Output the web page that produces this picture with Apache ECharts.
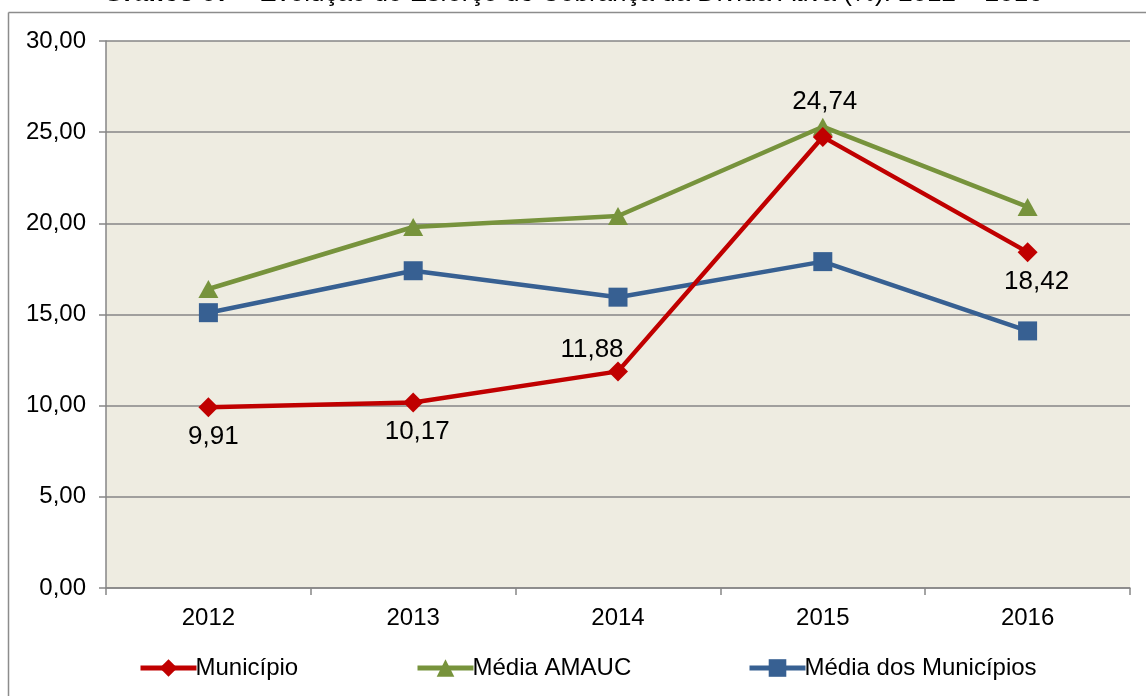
<!DOCTYPE html>
<html>
<head>
<meta charset="utf-8">
<script src="https://cdn.jsdelivr.net/npm/echarts@6/dist/echarts.min.js"></script>
<style>
  html, body { margin: 0; padding: 0; background: #fff; }
  #chart { width: 1146px; height: 696px; }
</style>
</head>
<body>
<div id="chart"></div>
<script>
// dados
const anos = ['2012', '2013', '2014', '2015', '2016']
const municipio = [9.91, 10.17, 11.88, 24.74, 18.42]
const mediaAmauc = [16.4, 19.8, 20.4, 25.3, 20.9]
const mediaMunicipios = [15.1, 17.4, 15.95, 17.9, 14.1]
// posição do rótulo de cada ponto do Município
const posRotulo = ['bottom', 'bottom', 'top', 'top', 'bottom']

const fonte = '"Liberation Sans", Arial, sans-serif'
const fmt = v => v.toFixed(2).replace('.', ',')

const myChart = echarts.init(document.getElementById('chart'))

// rótulos do Município, com ajustes finos (ficam acima/abaixo como no original)
const ajuste = [[5, -3], [4, -4], [-26, 11], [2, -2], [9, -3]]
const dadosMunicipio = municipio.map((v, i) => ({
    value: v,
    label: {
        show: true,
        position: posRotulo[i],
        distance: 10,
        offset: ajuste[i]
    }
}))

// uma legenda por série, para acertar a posição de cada item
const legendaBase = {
    top: 651,
    itemWidth: 56,
    itemHeight: 22,
    itemGap: 0,
    lineStyle: { width: 5 },
    textStyle: { fontSize: 24, color: '#000', fontFamily: fonte, padding: [0, 0, 0, -6] }
}

myChart.setOption({
    animation: false,
    backgroundColor: '#ffffff',
    textStyle: { fontFamily: fonte },
    title: {
        text: '{b|Gráfico 07} – Evolução do Esforço de Cobrança da Dívida Ativa (%): 2012 – 2016',
        left: 'center',
        top: -19,
        padding: [0, 0, 0, 30],
        textStyle: {
            fontSize: 26,
            fontWeight: 'normal',
            color: '#000',
            fontFamily: fonte,
            rich: { b: { fontSize: 26, fontWeight: 'bold', color: '#000', fontFamily: fonte } }
        }
    },
    graphic: [
        { type: 'line', shape: { x1: 8.5, y1: 12.5, x2: 8.5, y2: 696 }, style: { stroke: '#8c8c8c', lineWidth: 1.5 } },
        { type: 'line', shape: { x1: 8.5, y1: 12.5, x2: 1146, y2: 12.5 }, style: { stroke: '#8c8c8c', lineWidth: 1.5 } }
    ],
    grid: {
        left: 106,
        right: 16,
        top: 41,
        bottom: 108,
        show: true,
        backgroundColor: '#EEECE1',
        borderWidth: 0
    },
    legend: [
        Object.assign({ left: 133, data: ['Município'] }, legendaBase),
        Object.assign({ left: 410, data: ['Média AMAUC'] }, legendaBase),
        Object.assign({ left: 742, data: ['Média dos Municípios'] }, legendaBase)
    ],
    xAxis: {
        type: 'category',
        data: anos,
        boundaryGap: true,
        axisLine: { lineStyle: { color: '#868686', width: 1.5 } },
        axisTick: { show: true, length: 7, lineStyle: { color: '#868686', width: 1.5 } },
        axisLabel: { fontSize: 24, color: '#000', margin: 18 },
        splitLine: { show: false }
    },
    yAxis: {
        type: 'value',
        min: 0,
        max: 30,
        interval: 5,
        axisLine: { show: true, lineStyle: { color: '#868686', width: 1.5 } },
        axisTick: { show: true, length: 7, lineStyle: { color: '#868686', width: 1.5 } },
        axisLabel: { fontSize: 24, color: '#000', margin: 20, formatter: fmt },
        splitLine: { lineStyle: { color: '#868686', width: 1.5 } }
    },
    series: [
        {
            name: 'Município',
            type: 'line',
            data: dadosMunicipio,
            z: 4,
            symbol: 'diamond',
            symbolSize: 20,
            lineStyle: { color: '#C00000', width: 4.5 },
            itemStyle: { color: '#C00000' },
            label: { fontSize: 26, color: '#000', formatter: p => fmt(p.value) }
        },
        {
            name: 'Média AMAUC',
            type: 'line',
            data: mediaAmauc,
            z: 3,
            symbol: 'triangle',
            symbolSize: [20, 18],
            lineStyle: { color: '#77933C', width: 4.5 },
            itemStyle: { color: '#77933C' }
        },
        {
            name: 'Média dos Municípios',
            type: 'line',
            data: mediaMunicipios,
            z: 3,
            symbol: 'rect',
            symbolSize: 19,
            lineStyle: { color: '#376092', width: 4.5 },
            itemStyle: { color: '#376092' }
        }
    ]
})
</script>
</body>
</html>
